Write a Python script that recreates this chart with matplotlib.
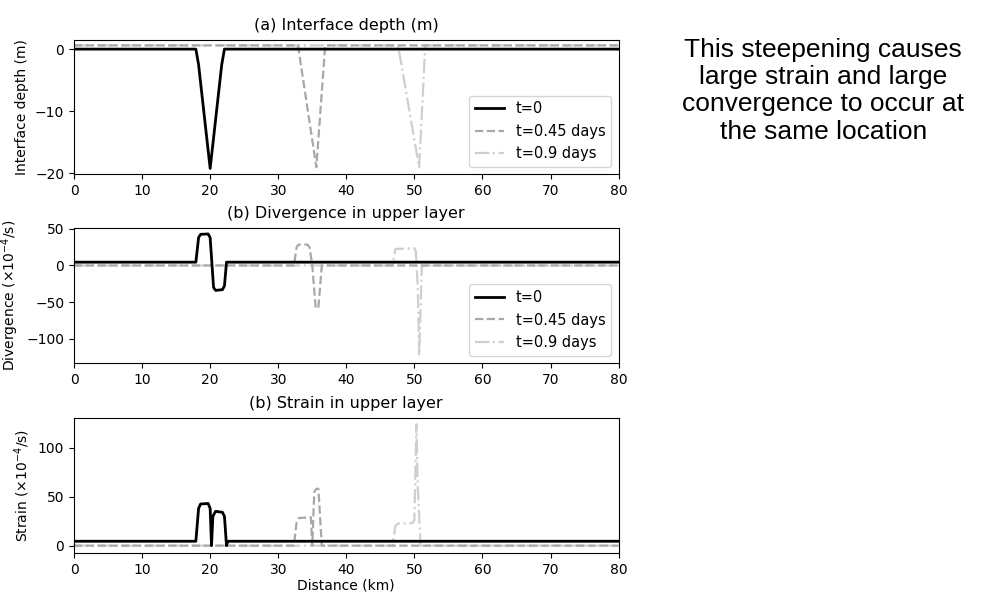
import matplotlib.pyplot as plt

# Distance (km) and values at the corners of each curve
# (a) Interface depth (m)
x_h0 = [0, 17.9, 18.3, 20.0, 21.7, 22.1, 80]
h_0 = [0, 0, -2.5, -19.2, -2.5, 0, 0]
x_h1 = [0, 32.9, 35.6, 36.9, 80]
h_1 = [0.6, 0.6, -19.0, 0.6, 0.6]
x_h2 = [0, 47.6, 50.7, 51.6, 80]
h_2 = [0.6, 0.6, -19.0, 0.6, 0.6]

# (b) Divergence in upper layer (x1e-4 /s)
x_d0 = [0, 17.9, 18.3, 18.6, 19.7, 20.0, 20.5, 20.8, 21.8, 22.1, 22.4, 80]
d_0 = [4.5, 4.5, 38, 42.5, 43, 38, -30, -34, -33, -28, 4.5, 4.5]
x_d1 = [0, 32.3, 32.7, 33.0, 34.3, 34.6, 35.0, 35.5, 35.9, 36.4, 80]
d_1 = [0, 0, 25, 28.5, 28.5, 25, 0, -58, -58, 0, 0]
x_d2 = [0, 46.8, 47.2, 50.0, 50.2, 50.5, 50.7, 51.1, 80]
d_2 = [0, 0, 22.5, 23.5, 20, -30, -123, 0, 0]

# (b) Strain in upper layer (x1e-4 /s)
x_s0 = [0, 17.9, 18.3, 18.6, 19.7, 20.0, 20.2, 20.4, 20.8, 21.8, 22.1, 22.4, 22.6, 80]
s_0 = [4.5, 4.5, 38, 42.5, 43, 38, 0, 30, 35, 34, 30, 0, 4.5, 4.5]
x_s1 = [0, 32.3, 32.7, 33.0, 34.5, 34.8, 35.0, 35.3, 35.6, 35.9, 36.4, 80]
s_1 = [0, 0, 24, 28, 29, 29, 0, 55, 58, 58, 0, 0]
x_s2 = [0, 46.8, 47.2, 47.6, 49.7, 50.0, 50.3, 50.5, 50.9, 80]
s_2 = [0, 0, 20, 22.5, 23, 26, 124, 60, 0, 0]

labels = ["t=0", "t=0.45 days", "t=0.9 days"]
styles = [("-", "black", 2.0), ("--", "#a8a8a8", 1.6), ("-.", "#cfcfcf", 1.6)]

fig = plt.figure(figsize=(9.92, 5.94), dpi=100)
ax1 = fig.add_axes([0.0746, 0.707, 0.549, 0.226])
ax2 = fig.add_axes([0.0746, 0.389, 0.549, 0.227])
ax3 = fig.add_axes([0.0746, 0.069, 0.549, 0.227])

panels = [
    (ax1, [(x_h0, h_0), (x_h1, h_1), (x_h2, h_2)],
     "(a) Interface depth (m)", "Interface depth (m)"),
    (ax2, [(x_d0, d_0), (x_d1, d_1), (x_d2, d_2)],
     "(b) Divergence in upper layer", r"Divergence ($\times10^{-4}$/s)"),
    (ax3, [(x_s0, s_0), (x_s1, s_1), (x_s2, s_2)],
     "(b) Strain in upper layer", r"Strain ($\times10^{-4}$/s)"),
]

for ax, series, title, ylabel in panels:
    # draw the light lines first so the black one sits on top
    for (xs, ys), lab, (ls, col, lw), z in zip(series, labels, styles, [3, 2, 1]):
        ax.plot(xs, ys, linestyle=ls, color=col, linewidth=lw, label=lab, zorder=z)
    ax.set_xlim(0, 80)
    ax.set_title(title, fontsize=11.5, pad=7)
    ax.set_ylabel(ylabel)

ax1.set_ylim(-20.1, 1.5)
ax2.set_ylim(-133, 51)
ax3.set_ylim(-7.5, 130)
ax1.set_yticks([0, -10, -20])
ax2.set_yticks([50, 0, -50, -100])
ax3.set_yticks([0, 50, 100])

ax1.legend(loc="lower right", fontsize=10.5)
ax2.legend(loc="lower right", fontsize=10.5)
ax3.set_xlabel("Distance (km)", labelpad=1)

fig.text(0.83, 0.847,
         "This steepening causes\nlarge strain and large\nconvergence to occur at\nthe same location",
         ha="center", va="center", fontsize=19, family="Liberation Sans",
         linespacing=1.17)

fig.savefig("out.png", dpi=100)
